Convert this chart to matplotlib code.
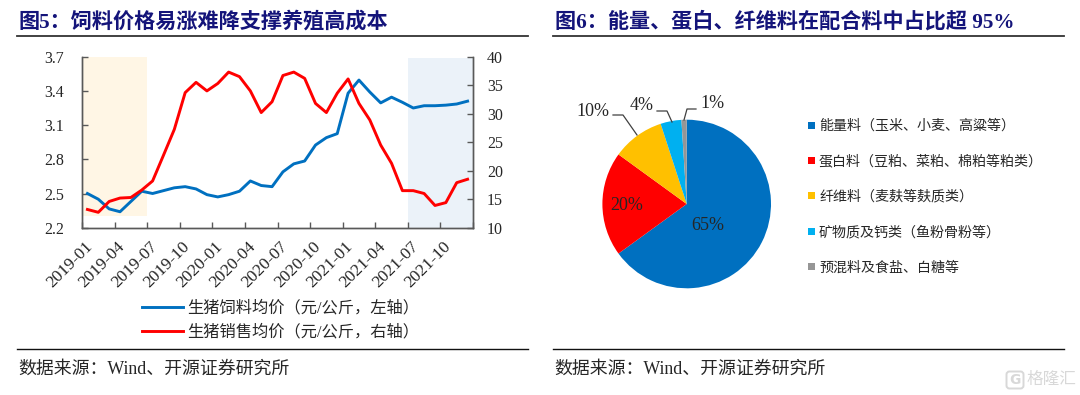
#!/usr/bin/env python3
"""图5 饲料/生猪价格双轴折线 + 图6 配合料占比饼图"""
import matplotlib; matplotlib.use("Agg")
import matplotlib.pyplot as plt
from matplotlib.patches import FancyBboxPatch, Rectangle
from matplotlib.transforms import ScaledTranslation

W,H=1080,395
plt.rcParams["font.family"]=["Liberation Serif","Noto Sans CJK SC"]

months=[f"{y}-{m:02d}" for y in (2019,2020,2021) for m in range(1,13)]
feed=[2.50,2.45,2.365,2.34,2.43,2.52,2.50,2.525,2.55,2.56,2.54,2.49,2.47,2.49,2.52,2.61,2.57,2.56,
      2.69,2.76,2.785,2.925,2.99,3.025,3.38,3.495,3.39,3.295,3.345,3.30,3.25,3.27,3.27,3.275,3.285,3.31]
hog=[13.2,12.7,14.6,15.2,15.3,16.6,18.2,22.7,27.25,33.7,35.5,34.0,35.3,37.3,36.5,34.0,30.2,32.1,
     36.7,37.3,36.2,31.8,30.2,33.6,36.1,31.8,28.9,24.5,21.3,16.5,16.5,16.0,13.9,14.4,17.9,18.5]
left_ticks=[2.2,2.5,2.8,3.1,3.4,3.7]
right_ticks=[10,15,20,25,30,35,40]
line_names=["生猪饲料均价（元/公斤，左轴）","生猪销售均价（元/公斤，右轴）"]
shares=[65,20,10,4,1]
share_colors=["#0070C0","#FF0000","#FFC000","#00B0F0","#969696"]
share_names=["能量料（玉米、小麦、高粱等）","蛋白料（豆粕、菜粕、棉粕等粕类）","纤维料（麦麸等麸质类）",
             "矿物质及钙类（鱼粉骨粉等）","预混料及食盐、白糖等"]
titles=["图5：饲料价格易涨难降支撑养殖高成本","图6：能量、蛋白、纤维料在配合料中占比超 95%"]
source="数据来源：Wind、开源证券研究所"

def box(l,t,r,b): return [l/W,1-b/H,(r-l)/W,(b-t)/H]
fig=plt.figure(figsize=(W/100,H/100),dpi=100,facecolor="white")
# 像素坐标底层: 标题/横线/来源/图例文字
bg=fig.add_axes([0,0,1,1]); bg.set_xlim(0,W); bg.set_ylim(H,0); bg.axis("off")
NAVY="#14147A"; DK="#262626"; AX="#595959"
bg.text(18,22,titles[0],fontsize=15.2,fontweight="bold",color=NAVY,va="center")
bg.text(555,22,titles[1],fontsize=15.2,fontweight="bold",color=NAVY,va="center")
for x0,x1 in [(17,528),(553,1064)]:
    bg.plot([x0,x1],[36,36],color="#333333",lw=1.3)
    bg.plot([x0,x1],[349,349],color="#111111",lw=1.0)
    bg.text(x0+1,369,source,fontsize=12.9,color=DK,va="center")

# 左图
ax=fig.add_axes(box(82,56.7,473,227.7)); ax.patch.set_alpha(0)
ax.set_xlim(-.5,35.5); ax.set_ylim(2.2,3.7)
ax.add_patch(Rectangle((-.5,2.3),6,1.4,fc="#FFF6E5",ec="none",zorder=0))
ax.add_patch(Rectangle((29.5,2.2),6,1.485,fc="#EBF2F9",ec="none",zorder=0))
l1,=ax.plot(range(36),feed,color="#0070C0",lw=2.1,solid_joinstyle="round")
ax2=ax.twinx(); ax2.set_ylim(10,40)
l2,=ax2.plot(range(36),hog,color="#FF0000",lw=2.1,solid_joinstyle="round")
ax.set_xticks([i-.5 for i in range(0,37,3)])
ax.set_xticklabels([])
ax.set_xticks(range(0,36,3),months[::3],minor=True,rotation=45,ha="right",va="top",rotation_mode="anchor",fontsize=12.5,color=DK)
ax.tick_params(axis="x",which="minor",length=0,pad=8)
ax.tick_params(axis="x",which="major",direction="in",length=4,color=AX,width=1)
shift=ScaledTranslation(-3/100,0,fig.dpi_scale_trans)
for t in ax.get_xticklabels(minor=True): t.set_transform(t.get_transform()+shift)
ax.set_yticks(left_ticks,[f"{v:.1f}" for v in left_ticks],fontsize=11.5,color=DK)
ax.tick_params(axis="y",direction="in",length=4,color=AX,width=1,pad=13)
ax2.set_yticks(right_ticks,[str(v) for v in right_ticks],fontsize=11.5,color=DK)
ax2.tick_params(axis="y",direction="in",length=4,color=AX,width=1,pad=10)
for a in (ax,ax2):
    a.spines["top"].set_visible(False)
    for s in ("left","right","bottom"):
        a.spines[s].set_color(AX); a.spines[s].set_linewidth(1)
for ln,y,name in [(l1,307,line_names[0]),(l2,331,line_names[1])]:
    bg.plot([142,183],[y,y],color=ln.get_color(),lw=2.1)
    bg.text(187,y+1,name,fontsize=11.7,color=DK,va="center")

# 饼图
pa=fig.add_axes(box(686.7-84.3,204-84.3,686.7+84.3,204+84.3))
pa.pie(shares,colors=share_colors,startangle=90,counterclock=False,radius=1,wedgeprops={"linewidth":0})
pa.set_xlim(-1,1); pa.set_ylim(-1,1)
# 顶层: 饼图标签和引线
fg=fig.add_axes([0,0,1,1]); fg.set_xlim(0,W); fg.set_ylim(H,0); fg.axis("off")
for (x,y),v in zip([(708,225),(627,205),(593,111),(642,105),(712,104)],shares):
    fg.text(x,y,f"{v}%",fontsize=13,color=DK,ha="center",va="center")
for xs,ys in [((613,623,637),(115,115,135)),((657,667,672),(111,111,122)),((696,687,684),(109,109,120))]:
    fg.plot(xs,ys,color="#404040",lw=.9)
for y,c,name in zip([125,160.7,195.7,231.7,266.7],share_colors,share_names):
    bg.add_patch(Rectangle((808,y-3.5),7,7,fc=c,ec="none"))
    bg.text(819,y+1,name,fontsize=10.1,color=DK,va="center")

# 水印
bg.add_patch(FancyBboxPatch((1008,373),14,14,boxstyle="round,pad=1.5,rounding_size=3",fc="none",ec="#D8D8D8",lw=1.4))
bg.text(1015,380,"G",fontsize=10,color="#D8D8D8",ha="center",va="center",family="DejaVu Sans",fontweight="bold")
bg.text(1027,380,"格隆汇",fontsize=12,color="#D8D8D8",va="center")
fig.savefig("out.png",dpi=100)
